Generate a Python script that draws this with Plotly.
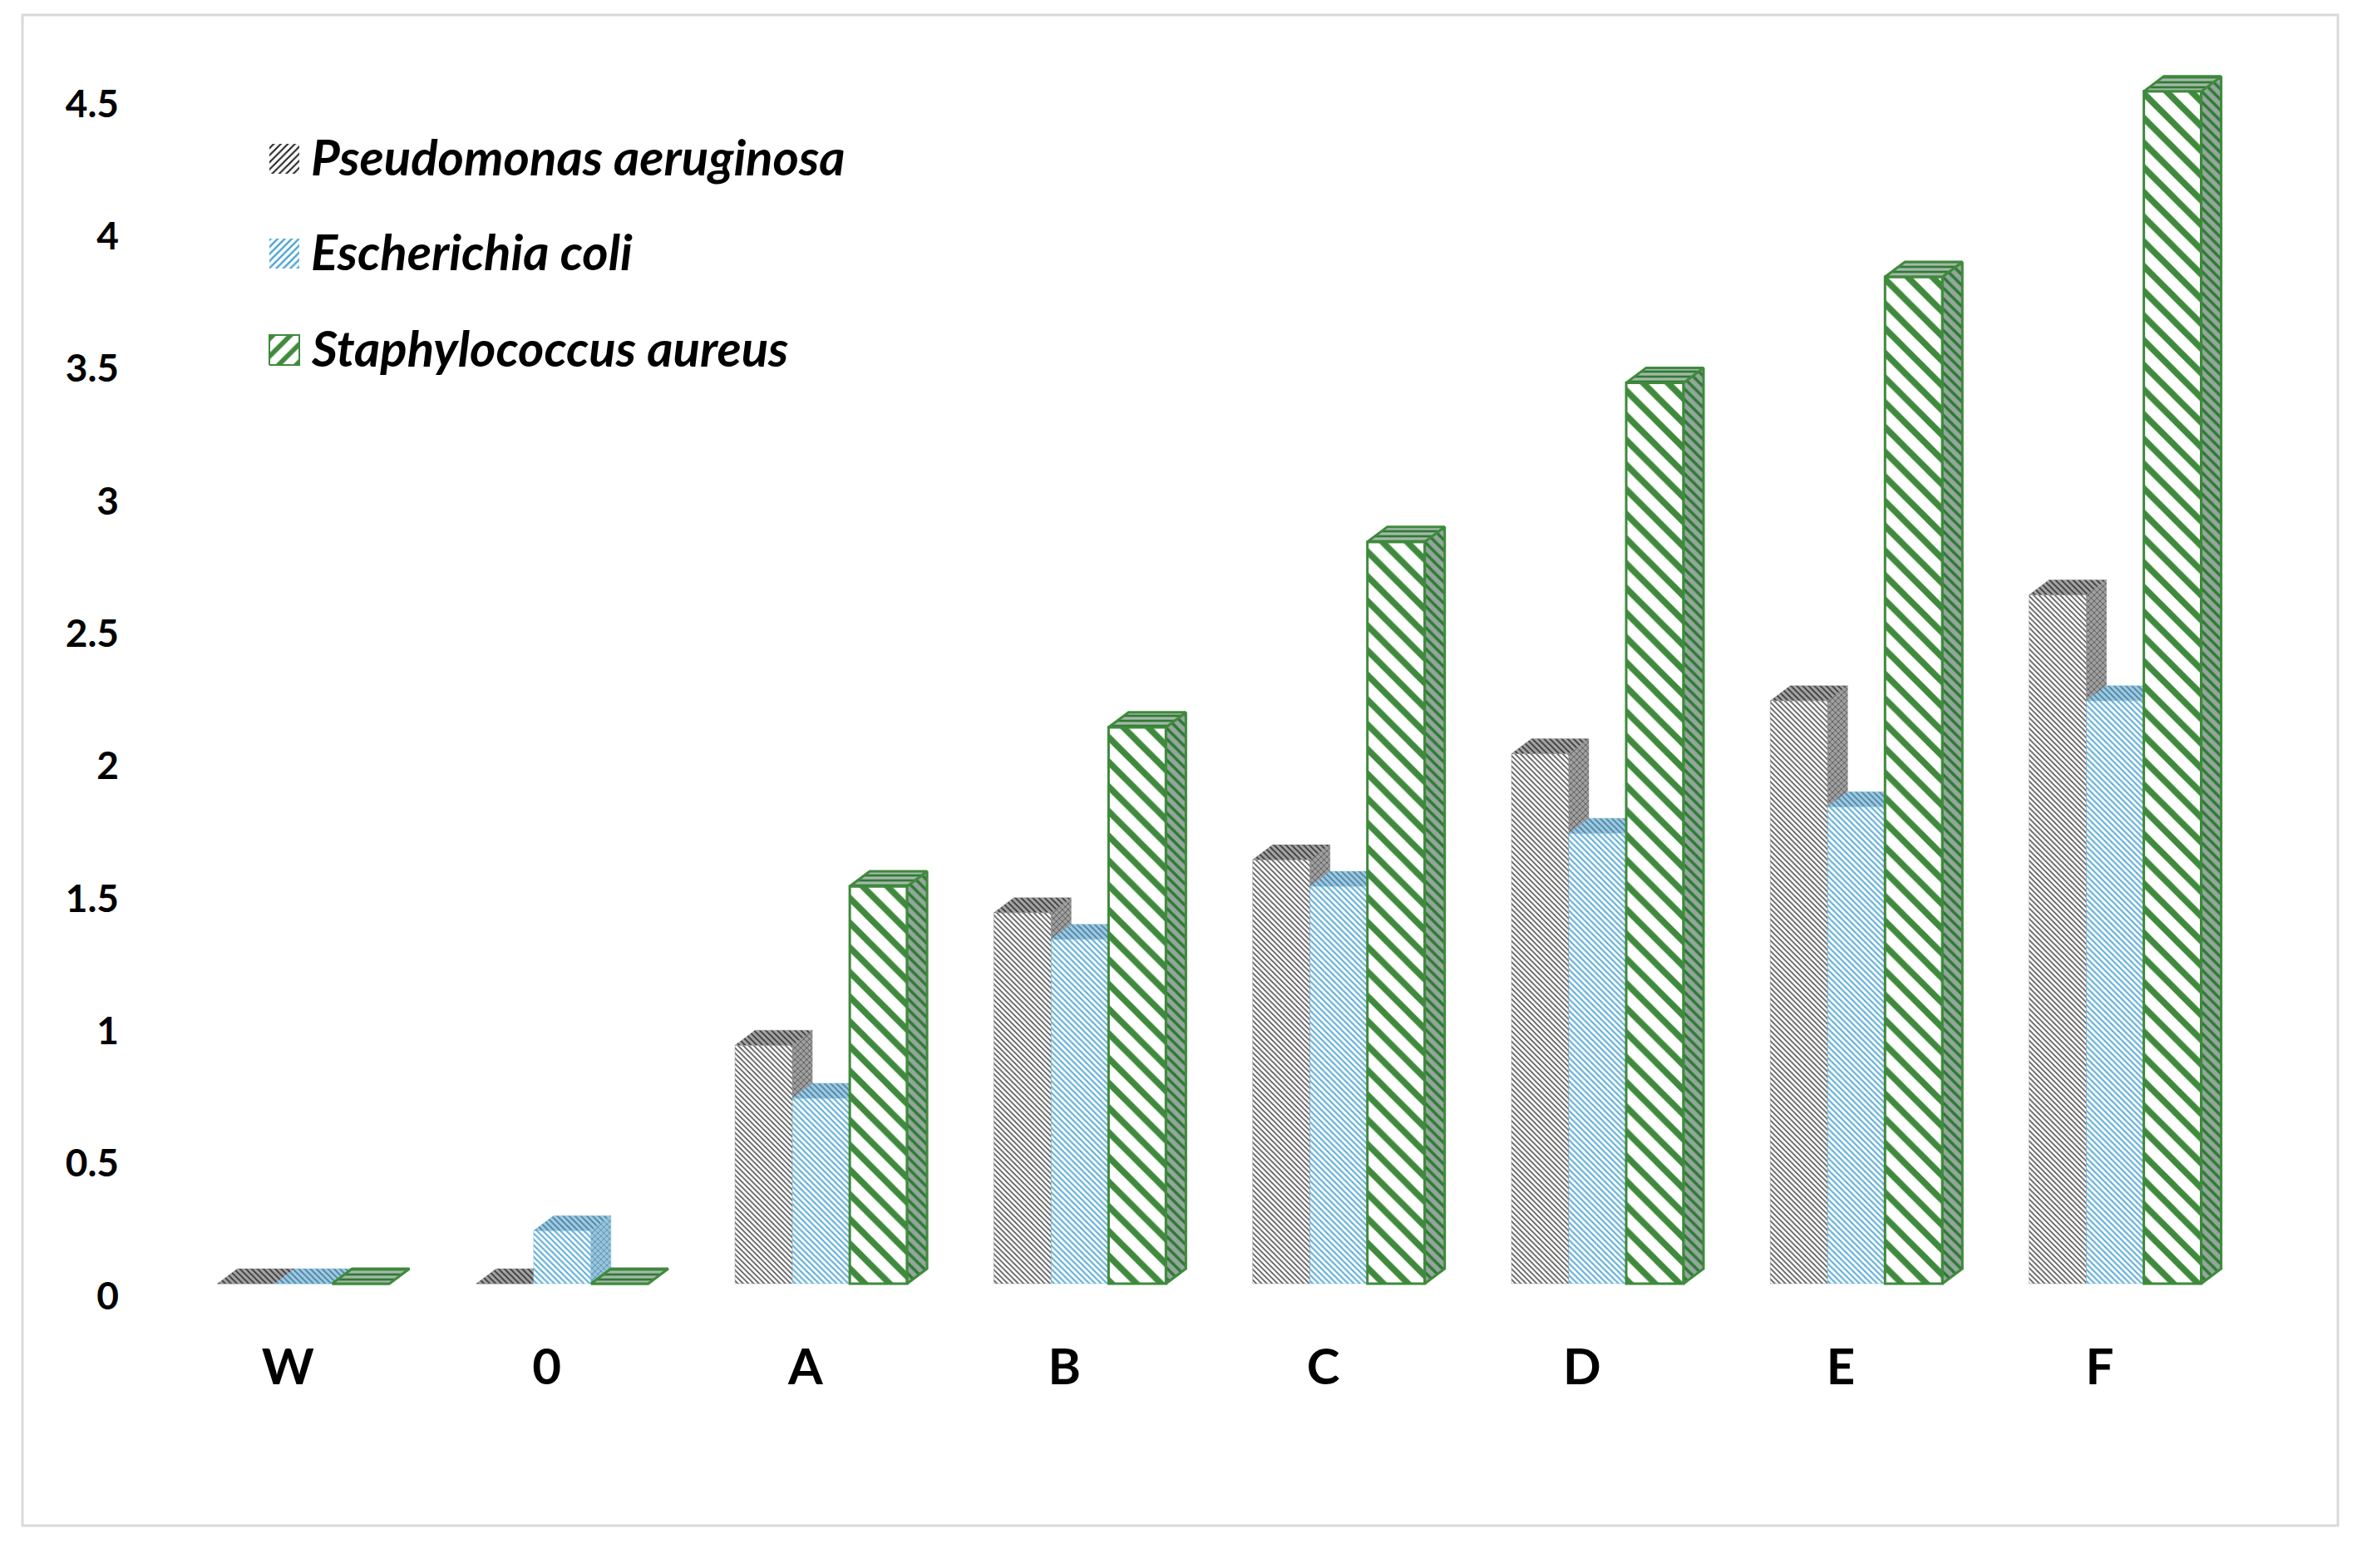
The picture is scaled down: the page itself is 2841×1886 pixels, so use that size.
import plotly.graph_objects as go

categories = ["W", "0", "A", "B", "C", "D", "E", "F"]
y_labels = ["0", "0.5", "1", "1.5", "2", "2.5", "3", "3.5", "4", "4.5"]
y_ticks = [0, 0.5, 1, 1.5, 2, 2.5, 3, 3.5, 4, 4.5]
pseudomonas = [0, 0, 0.9, 1.4, 1.6, 2.0, 2.2, 2.6]
ecoli = [0, 0.2, 0.7, 1.3, 1.5, 1.7, 1.8, 2.2]
staph = [0, 0, 1.5, 2.1, 2.8, 3.4, 3.8, 4.5]
names = ["Pseudomonas aeruginosa", "Escherichia coli", "Staphylococcus aureus"]

W, H = 2841, 1886
L, R, T, B = 150, 2750, 30, 1604
PX_X, PX_Y = 311.3, 318.7
X0, Y0 = 365, 1544
xr = [(L - X0) / PX_X, (R - X0) / PX_X]
yr = [(Y0 - B) / PX_Y, (Y0 - T) / PX_Y]
BW = 69 / PX_X
DX, DY = 24 / PX_X, 18 / PX_Y


def pat(shape, fg, bg, size, solidity):
    return dict(shape=shape, fgcolor=fg, bgcolor=bg, size=size, solidity=solidity, fgopacity=1)


styles = [
    dict(front=pat("\\", "#555555", "#ffffff", 4.5, 0.38),
         side=pat("x", "#3a3a3a", "#a0a0a0", 5, 0.25),
         top=pat("\\", "#3a3a3a", "#a5a5a5", 5, 0.35),
         line="rgba(120,120,120,0.35)", lw=1),
    dict(front=pat("\\", "#62b0d8", "#ffffff", 5, 0.42),
         side=pat("x", "#2f7fa8", "#9cc4da", 5, 0.25),
         top=pat("\\", "#3b87b0", "#a9c8da", 5, 0.35),
         line="rgba(120,185,220,0.4)", lw=1),
    dict(front=pat("\\", "#3f8a3c", "#ffffff", 21, 0.36),
         side=pat("\\", "#2f7a35", "#93a79b", 9, 0.4),
         top=pat("-", "#2f7a35", "#a5b8a8", 6, 0.45),
         line="#3f8a3c", lw=3),
]

fig = go.Figure()
series = [pseudomonas, ecoli, staph]
offsets = [-1.5 * BW, -0.5 * BW, 0.5 * BW]

for i, vals in enumerate(series):
    s = styles[i]
    ax = "" if i == 0 else str(i + 1)
    xa, ya = "x" + ax, "y" + ax
    fig.add_trace(go.Bar(
        x=list(range(len(categories))), y=vals, name=names[i], width=BW, offset=offsets[i],
        marker=dict(color="#ffffff", pattern=s["front"], line=dict(color=s["line"], width=s["lw"])),
        xaxis=xa, yaxis=ya, showlegend=False))
    sx, sy, tx, ty = [], [], [], []
    for k, v in enumerate(vals):
        a = k + offsets[i]
        b = a + BW
        if v > 0:
            sx += [b, b + DX, b + DX, b, b, None]
            sy += [0, DY, v + DY, v, 0, None]
        tx += [a, a + DX, b + DX, b, a, None]
        ty += [v, v + DY, v + DY, v, v, None]
    fig.add_trace(go.Scatter(x=sx, y=sy, mode="lines", fill="toself", fillcolor=s["side"]["bgcolor"],
                             fillpattern=s["side"], line=dict(color=s["line"], width=s["lw"]),
                             xaxis=xa, yaxis=ya, showlegend=False, hoverinfo="skip"))
    fig.add_trace(go.Scatter(x=tx, y=ty, mode="lines", fill="toself", fillcolor=s["top"]["bgcolor"],
                             fillpattern=s["top"], line=dict(color=s["line"], width=s["lw"]),
                             xaxis=xa, yaxis=ya, showlegend=False, hoverinfo="skip"))

# legend drawn as swatches with text, because native bar swatches cannot be this large
legend_py = [191, 305, 421]
sw = 36
swatch_styles = [
    pat("/", "#222222", "#ffffff", 6, 0.35),
    pat("/", "#4aa3d0", "#ffffff", 6, 0.4),
    pat("/", "#3f8a3c", "#ffffff", 15, 0.38),
]
annos = []
for i, py in enumerate(legend_py):
    x1 = (324 - X0) / PX_X
    x2 = x1 + sw / PX_X
    y1 = (Y0 - py - sw / 2) / PX_Y
    y2 = y1 + sw / PX_Y
    line_col = "#3f8a3c" if i == 2 else "rgba(0,0,0,0)"
    fig.add_trace(go.Scatter(x=[x1, x2, x2, x1, x1], y=[y1, y1, y2, y2, y1], mode="lines", fill="toself",
                             fillcolor="#ffffff", fillpattern=swatch_styles[i],
                             line=dict(color=line_col, width=2), showlegend=False, hoverinfo="skip",
                             xaxis="x3", yaxis="y3"))
    annos.append(dict(x=(372 - L) / (R - L), y=(B - py + 3) / (B - T),
                      xref="paper", yref="paper", xanchor="left", yanchor="middle", showarrow=False,
                      text="<i>%s</i>" % names[i],
                      font=dict(family="Lato", size=60, color="#000000", weight=700)))

fig.update_layout(
    width=W, height=H, autosize=False,
    margin=dict(l=L, r=W - R, t=T, b=H - B, pad=0),
    paper_bgcolor="#ffffff", plot_bgcolor="rgba(0,0,0,0)",
    barmode="overlay", showlegend=False, annotations=annos,
    shapes=[dict(type="rect", xref="paper", yref="paper",
                 x0=(27 - L) / (R - L), x1=(2812 - L) / (R - L),
                 y0=(B - 1835) / (B - T), y1=(B - 18) / (B - T),
                 line=dict(color="#d9d9d9", width=3), fillcolor="rgba(0,0,0,0)", layer="below")],
    xaxis=dict(range=xr, tickmode="array", tickvals=[k - 0.06 for k in range(len(categories))],
               ticktext=categories, showgrid=False, zeroline=False, showline=False, ticks="",
               tickfont=dict(family="Lato", size=60, color="#000000", weight=700)),
    yaxis=dict(range=yr, tickmode="array", tickvals=[v - 0.046 for v in y_ticks], ticktext=y_labels,
               showgrid=False, zeroline=False, showline=False, ticks="",
               tickfont=dict(family="Lato", size=46, color="#000000", weight=700), ticklabelstandoff=6),
    xaxis2=dict(range=xr, overlaying="x", visible=False),
    yaxis2=dict(range=yr, overlaying="y", visible=False),
    xaxis3=dict(range=xr, overlaying="x", visible=False),
    yaxis3=dict(range=yr, overlaying="y", visible=False),
)
fig.write_html("out.html", post_script="document.body.style.margin='0';",
               config=dict(displayModeBar=False))
